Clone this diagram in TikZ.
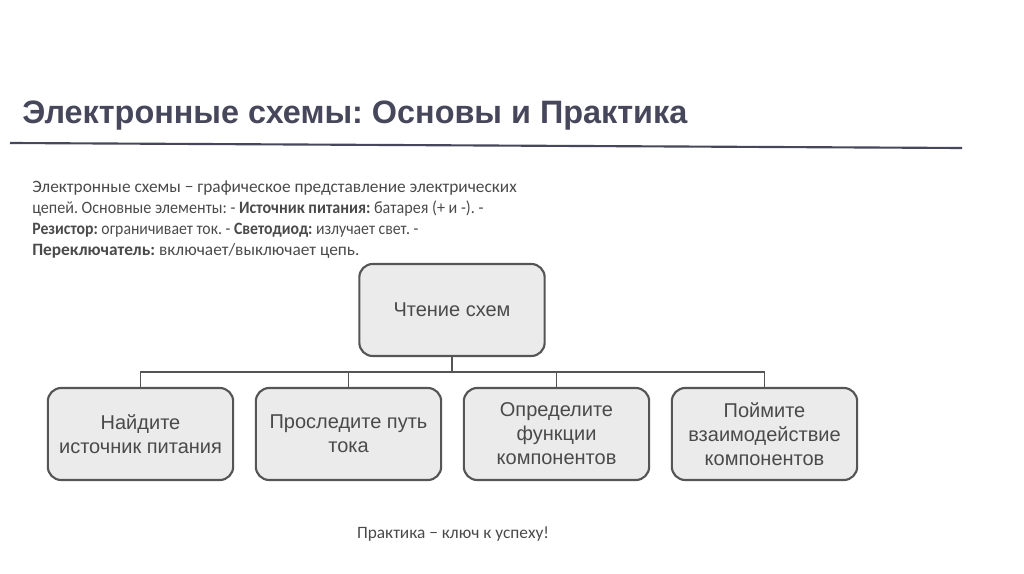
\documentclass[tikz,border=0pt]{standalone}
\usepackage{fontspec}
\setmainfont{Carlito}
\newfontfamily\arialfont{Liberation Sans}
\frenchspacing
\definecolor{titlegray}{HTML}{46475A}
\definecolor{textgray}{HTML}{4A4A4A}
\definecolor{boxfill}{HTML}{EBEBEB}
\definecolor{boxline}{HTML}{555555}
\begin{document}
\begin{tikzpicture}[x=0.75pt,y=-0.75pt,
    stepbox/.style={draw=boxline, line width=1.6pt, fill=boxfill, rounded corners=10pt,
      minimum width=139pt, minimum height=69pt, align=center, text=textgray,
      font=\arialfont\fontsize{15}{18}\selectfont},
    link/.style={draw=boxline, line width=1.3pt}]
    \useasboundingbox (0,0) rectangle (1024,574);
    % title and rule
    \node [anchor=base west, inner sep=0, text=titlegray, font=\arialfont\bfseries\fontsize{24.3}{28}\selectfont] (title) at (22,124) {Электронные схемы: Основы и Практика};
    \coordinate (ruleA) at (10,143);
    \coordinate (ruleB) at (962,148);
    \draw [titlegray, line width=1.6pt] (ruleA) -- (ruleB);
    % intro text
    \node [anchor=north west, inner sep=0, align=left, text=textgray, font=\fontsize{13}{15.75}\selectfont] (intro) at (32,181)
      {Электронные схемы − графическое представление электрических\\
       \scalebox{0.93}[1]{цепей. Основные элементы: - \textbf{Источник питания:} батарея (+ и -). -}\\
       \scalebox{0.91}[1]{\textbf{Резистор:} ограничивает ток. - \textbf{Светодиод:} излучает свет. -}\\
       \textbf{Переключатель:} включает/выключает цепь.};
    % boxes
    \node [stepbox] (read) at (452,310) {Чтение схем};
    \node [stepbox] (find) at (140.5,434) {Найдите\\источник питания};
    \node [stepbox] (trace) at (348.5,434) {Проследите путь\\тока};
    \node [stepbox] (func) at (556.5,434) {Определите\\функции\\компонентов};
    \node [stepbox] (inter) at (764.5,434) {Поймите\\взаимодействие\\компонентов};
    % connectors
    \foreach \b in {find,trace,func,inter}
      \draw [link] (read.south) -- ++(0,15) -| (\b.north);
    % footer
    \node [anchor=base, inner sep=0, text=textgray, font=\fontsize{13}{15.75}\selectfont] (motto) at (453,538) {Практика − ключ к успеху!};
\end{tikzpicture}
\end{document}
